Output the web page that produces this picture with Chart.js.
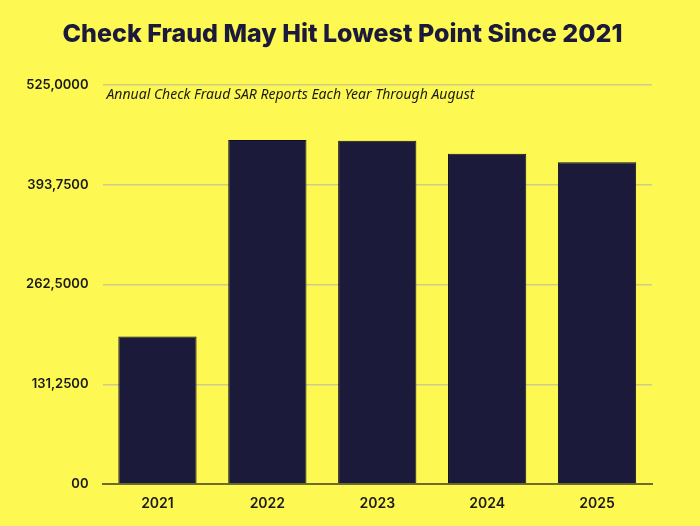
<!DOCTYPE html>
<html>
<head>
<meta charset="utf-8">
<script src="https://cdn.jsdelivr.net/npm/chart.js@4"></script>
<style>
  html, body { margin: 0; padding: 0; background: #fdf852; }
  #wrap { width: 700px; height: 526px; }
</style>
</head>
<body>
<div id="wrap"><canvas id="fraudChart" width="700" height="526"></canvas></div>
<script>
// data
const years = ["2021", "2022", "2023", "2024", "2025"];
const sarReports = [194000, 452500, 451500, 434500, 423500];
const yTickValues = [0, 131250, 262500, 393750, 525000];
const yTickLabels = ["00", "131,2500", "262,5000", "393,7500", "525,0000"];

const titleText = "Check Fraud May Hit Lowest Point Since 2021";
const subtitleText = "Annual Check Fraud SAR Reports Each Year Through August";

const navy = "#1b1a3b";
const ink = "#1a1a1a";

// title (centred a bit right of the plot centre) + subtitle inside the plot
const headerText = {
    id: "headerText",
    afterDraw(chart) {
        const { ctx, chartArea } = chart;
        ctx.save();
        ctx.fillStyle = navy;
        ctx.font = "800 25px Inter";
        ctx.textAlign = "center";
        ctx.textBaseline = "middle";
        ctx.fillText(titleText, 342.5, 34);

        ctx.font = "italic 14px 'Noto Sans'";
        ctx.fillStyle = ink;
        ctx.textAlign = "left";
        ctx.fillText(subtitleText, chartArea.left + 4, chartArea.top + 10);
        ctx.restore();
    }
};

new Chart(document.getElementById("fraudChart"), {
    type: "bar",
    data: {
        labels: years,
        datasets: [{
            label: "SAR Reports",
            data: sarReports,
            backgroundColor: navy,
            borderColor: "#0f0f22",
            borderWidth: 1,
            barPercentage: 0.8,
            categoryPercentage: 0.89,
        }],
    },
    options: {
        responsive: false,
        animation: false,
        layout: { padding: { left: 0, right: 48, top: 85, bottom: 0 } },
        plugins: {
            legend: { display: false },
            tooltip: { enabled: false },
            title: { display: false },
        },
        scales: {
            x: {
                grid: { display: false, drawTicks: false },
                border: { display: true, color: "#6e6b2c", width: 2 },
                ticks: {
                    color: ink,
                    padding: 11,
                    font: { family: "Inter", size: 14, weight: "600" },
                },
                afterFit: (s) => { s.height = 42; },
            },
            y: {
                min: 0,
                max: 525000,
                afterBuildTicks: (s) => { s.ticks = yTickValues.map(v => ({ value: v })); },
                grid: { color: "#cfcb8a", lineWidth: 1.5, drawTicks: false },
                border: { display: false },
                ticks: {
                    color: ink,
                    padding: 14,
                    font: { family: "Inter", size: 13, weight: "600" },
                    callback: (v) => yTickLabels[yTickValues.indexOf(v)],
                },
                afterFit: (s) => { s.width = 102.5; },
            },
        },
    },
    plugins: [headerText],
});
</script>
</body>
</html>
